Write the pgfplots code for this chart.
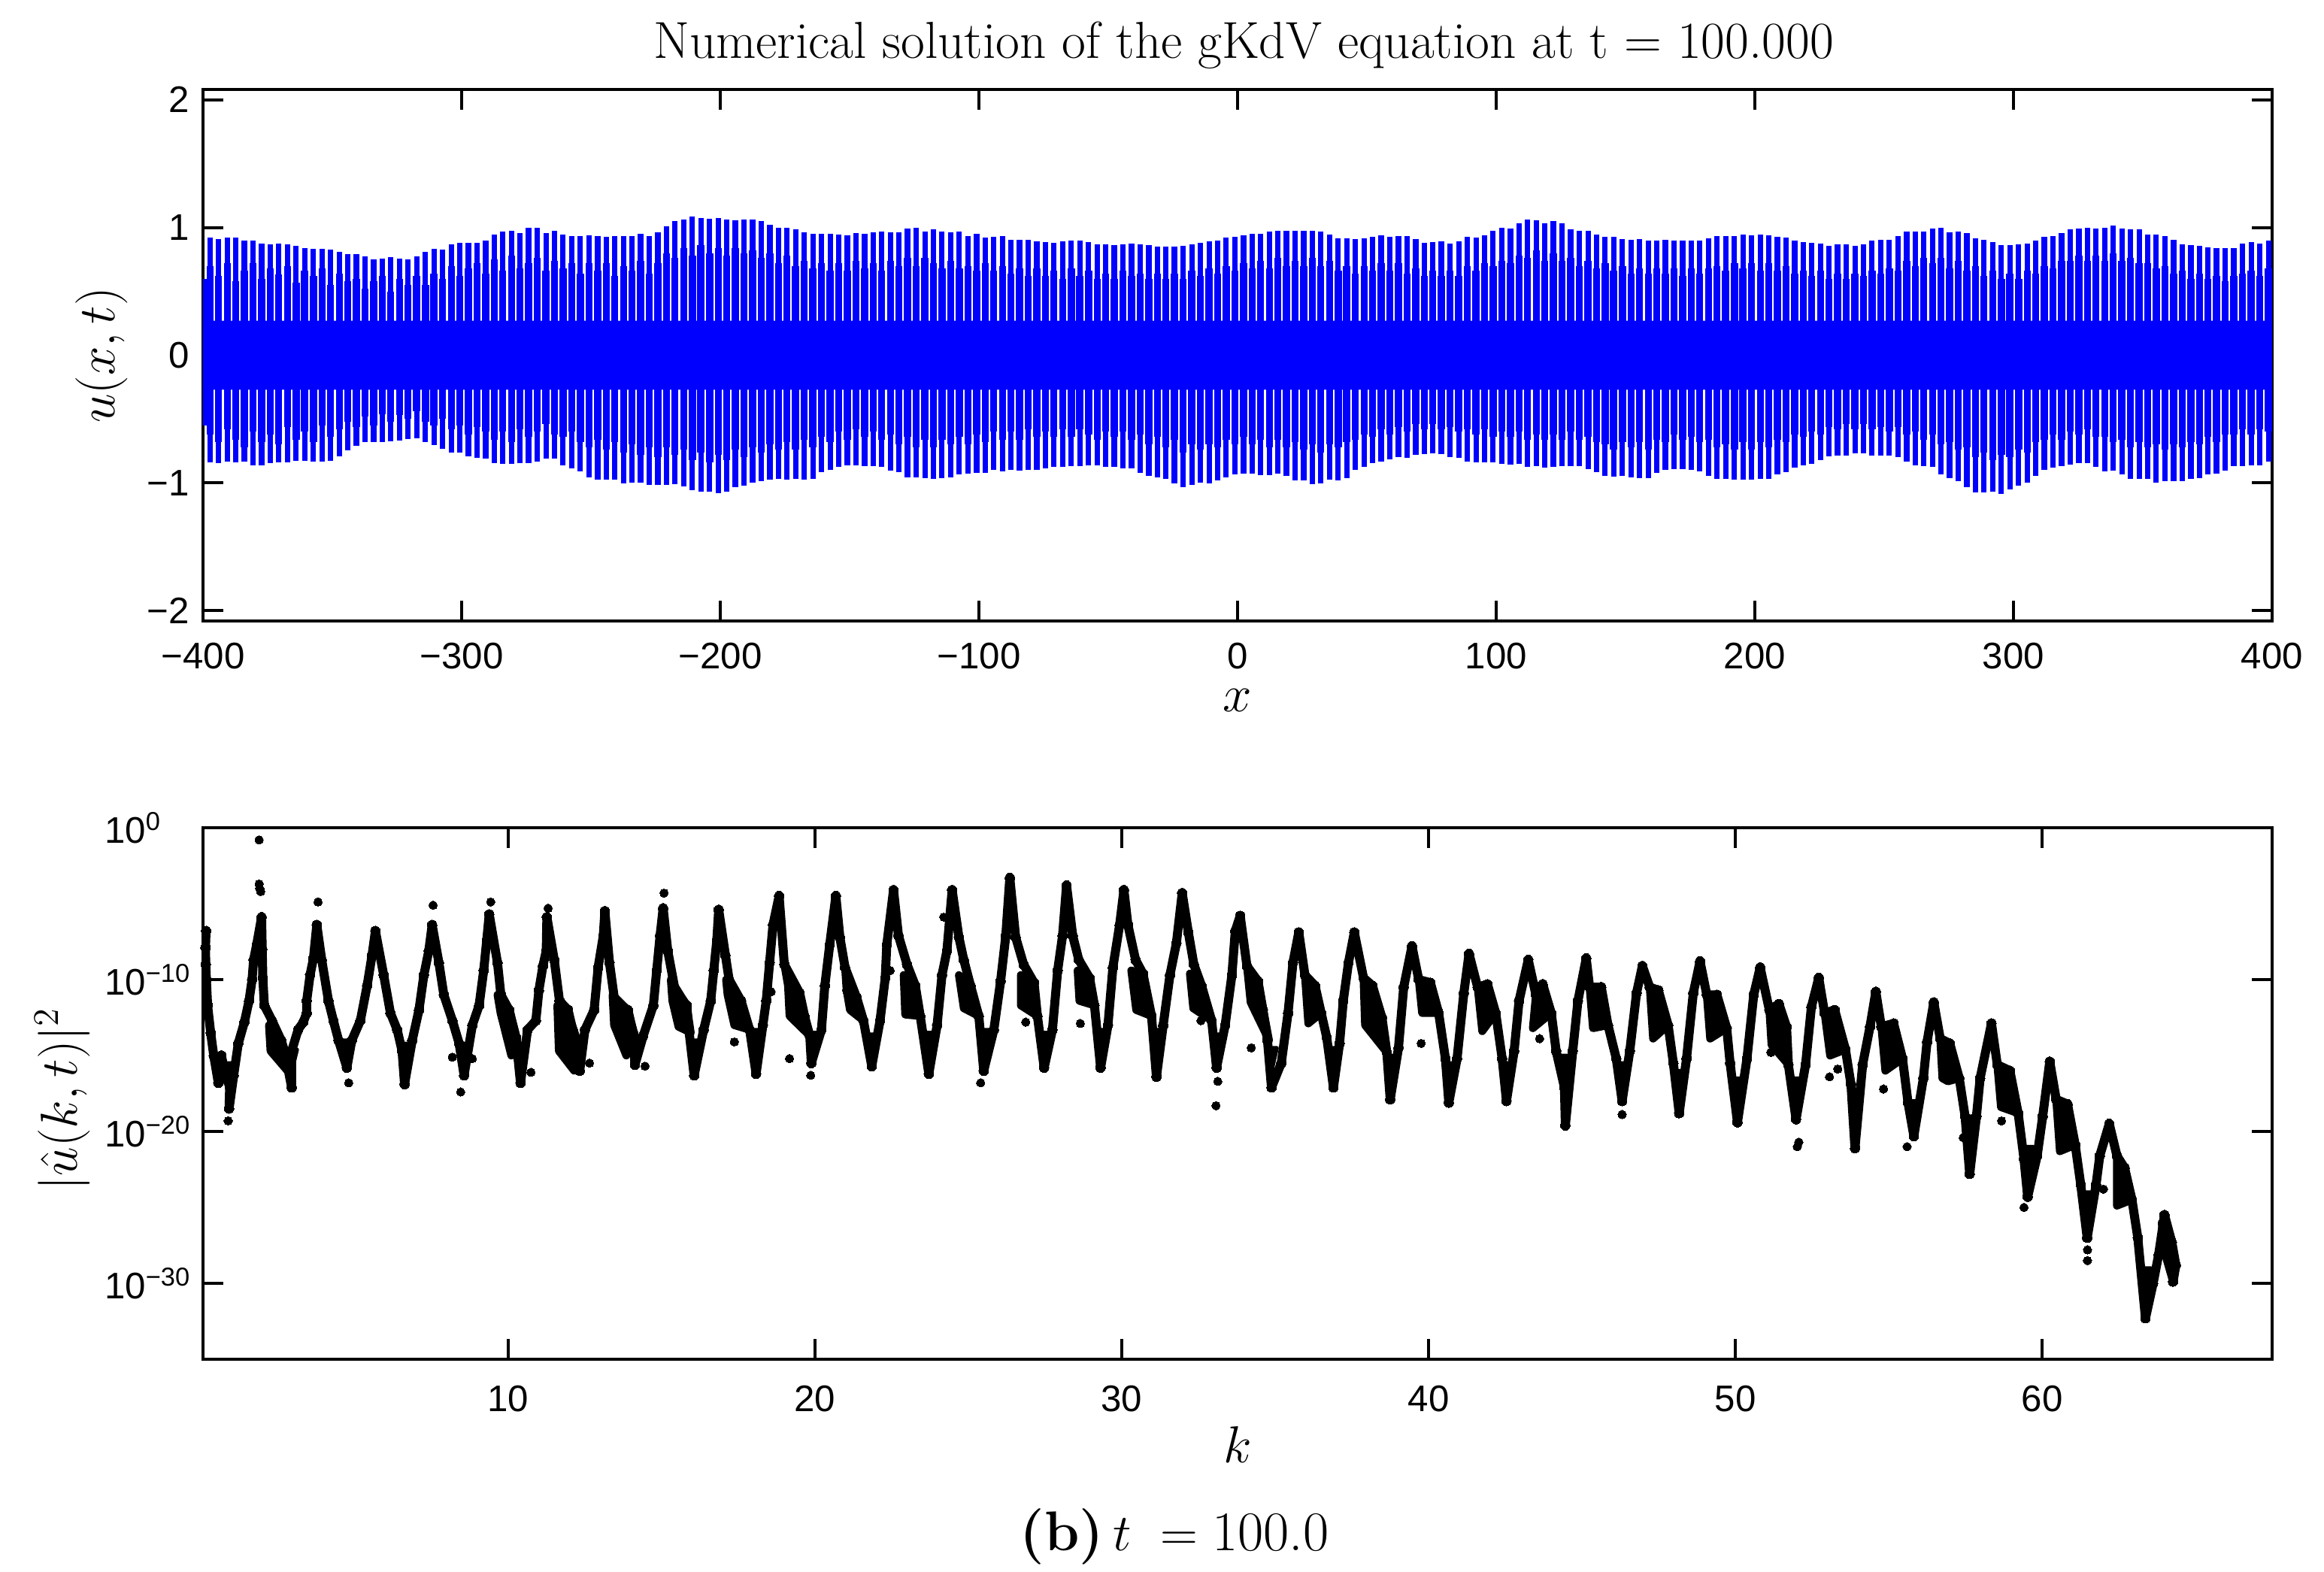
\documentclass[border=0pt]{standalone}
\usepackage{fontspec}
\usepackage{pgfplots}
\usepackage{pgfplotstable}
\pgfplotsset{compat=1.18}
\newfontfamily\hv{Liberation Sans}
\definecolor{pureblue}{RGB}{0,0,255}
\newcommand{\blob}[1]{\addplot[draw=black,fill=black,line width=2.6pt,line join=round] coordinates {#1} -- cycle;}
\newcommand{\tblob}[1]{\addplot[draw=black,fill=black,line width=1.2pt,line join=round] coordinates {#1} -- cycle;}
\pgfplotstableread{
x u l um lm
-399.7 .60 -.55 .55 -.50
-397.3 .92 -.84 .70 -.62
-394.0 .91 -.845 .62 -.68
-390.6 .92 -.835 .72 -.58
-387.3 .92 -.84 .58 -.66
-384.0 .90 -.835 .66 -.72
-380.7 .895 -.86 .72 -.60
-377.3 .875 -.86 .60 -.68
-374.0 .87 -.845 .68 -.62
-370.7 .875 -.84 .63 -.70
-367.3 .865 -.84 .70 -.56
-364.0 .855 -.825 .57 -.66
-360.7 .84 -.825 .66 -.60
-357.3 .835 -.83 .62 -.68
-354.0 .835 -.835 .68 -.55
-350.7 .825 -.825 .55 -.64
-347.3 .81 -.79 .64 -.58
-344.0 .79 -.745 .58 -.52
-340.7 .79 -.71 .60 -.56
-337.3 .775 -.68 .52 -.48
-334.0 .75 -.68 .58 -.55
-330.7 .755 -.68 .62 -.46
-327.4 .765 -.675 .50 -.52
-324.0 .755 -.665 .60 -.47
-320.7 .75 -.655 .55 -.50
-317.4 .775 -.65 .62 -.44
-314.0 .81 -.68 .55 -.52
-310.7 .83 -.705 .64 -.55
-307.4 .825 -.73 .60 -.50
-304.0 .87 -.76 .70 -.58
-300.7 .88 -.76 .62 -.55
-297.4 .88 -.79 .68 -.62
-294.1 .88 -.805 .72 -.56
-290.7 .90 -.81 .64 -.60
-287.4 .945 -.845 .75 -.66
-284.1 .97 -.85 .66 -.60
-280.7 .975 -.85 .78 -.68
-277.4 .955 -.845 .68 -.58
-274.1 .995 -.845 .72 -.64
-270.7 1.0 -.83 .76 -.60
-267.4 .955 -.81 .66 -.54
-264.1 .975 -.81 .74 -.62
-260.8 .945 -.86 .68 -.64
-257.4 .935 -.885 .72 -.60
-254.1 .935 -.91 .64 -.68
-250.8 .94 -.955 .72 -.72
-247.4 .93 -.975 .66 -.66
-244.1 .925 -.975 .72 -.74
-240.8 .935 -.975 .62 -.68
-237.4 .935 -1.005 .70 -.76
-234.1 .935 -1.0 .66 -.70
-230.8 .95 -1.0 .74 -.78
-227.5 .935 -1.015 .64 -.72
-224.1 .96 -1.015 .72 -.80
-220.8 1.01 -1.015 .80 -.72
-217.5 1.05 -1.01 .76 -.78
-214.1 1.06 -1.025 .84 -.74
-210.8 1.085 -1.055 .78 -.82
-207.5 1.075 -1.07 .86 -.76
-204.1 1.07 -1.07 .80 -.84
-200.8 1.075 -1.08 .84 -.78
-197.5 1.06 -1.065 .78 -.82
-194.2 1.055 -1.035 .84 -.74
-190.8 1.065 -1.02 .80 -.80
-187.5 1.065 -1.0 .82 -.72
-184.2 1.05 -.985 .76 -.76
-180.8 1.02 -.975 .80 -.70
-177.5 1.0 -.965 .72 -.74
-174.2 .995 -.975 .78 -.68
-170.9 .985 -.97 .70 -.74
-167.5 .96 -.975 .74 -.66
-164.2 .95 -.965 .68 -.72
-160.9 .95 -.915 .72 -.64
-157.5 .95 -.895 .66 -.68
-154.2 .945 -.875 .72 -.60
-150.9 .94 -.86 .66 -.66
-147.5 .955 -.86 .74 -.58
-144.2 .95 -.87 .68 -.64
-140.9 .96 -.87 .72 -.60
-137.6 .965 -.875 .66 -.66
-134.2 .96 -.905 .74 -.62
-130.9 .96 -.915 .70 -.70
-127.6 .99 -.955 .76 -.64
-124.2 .995 -.955 .70 -.72
-120.9 .965 -.96 .76 -.66
-117.6 .985 -.965 .72 -.72
-114.3 .965 -.96 .68 -.66
-110.9 .96 -.955 .74 -.70
-107.6 .965 -.935 .68 -.64
-104.3 .93 -.925 .70 -.70
-100.9 .95 -.92 .66 -.62
-97.6 .92 -.92 .72 -.68
-94.3 .925 -.895 .66 -.60
-90.9 .93 -.91 .70 -.66
-87.6 .905 -.90 .64 -.60
-84.3 .905 -.905 .68 -.66
-81.0 .905 -.90 .62 -.58
-77.6 .89 -.895 .68 -.64
-74.3 .885 -.885 .62 -.60
-71.0 .88 -.875 .66 -.64
-67.6 .89 -.875 .60 -.58
-64.3 .895 -.87 .68 -.64
-61.0 .895 -.865 .62 -.58
-57.6 .885 -.86 .66 -.62
-54.3 .87 -.86 .60 -.66
-51.0 .865 -.875 .64 -.60
-47.7 .86 -.875 .60 -.64
-44.3 .865 -.885 .66 -.60
-41.0 .875 -.885 .62 -.66
-37.7 .87 -.92 .64 -.62
-34.3 .86 -.945 .60 -.70
-31.0 .85 -.955 .64 -.64
-27.7 .85 -.965 .60 -.72
-24.4 .85 -1.005 .64 -.66
-21.0 .855 -1.03 .60 -.76
-17.7 .865 -1.015 .66 -.70
-14.4 .88 -.995 .62 -.74
-11.0 .89 -1.005 .68 -.70
-7.7 .895 -.98 .64 -.72
-4.4 .92 -.955 .70 -.66
-1.1 .925 -.935 .66 -.70
2.3 .94 -.925 .72 -.64
5.6 .95 -.925 .68 -.70
8.9 .95 -.94 .74 -.66
12.3 .97 -.94 .68 -.72
15.6 .975 -.925 .76 -.66
18.9 .975 -.945 .70 -.72
22.2 .975 -.98 .74 -.68
25.6 .975 -.98 .70 -.74
28.9 .975 -1.01 .76 -.70
32.2 .965 -1.005 .70 -.76
35.6 .945 -.975 .74 -.70
38.9 .915 -.98 .66 -.72
42.2 .915 -.96 .70 -.68
45.5 .91 -.895 .64 -.66
48.9 .915 -.875 .70 -.62
52.2 .925 -.845 .66 -.64
55.5 .94 -.835 .72 -.58
58.9 .925 -.815 .66 -.62
62.2 .935 -.80 .72 -.56
65.5 .935 -.805 .64 -.60
68.9 .91 -.78 .68 -.54
72.2 .88 -.775 .62 -.58
75.5 .885 -.77 .66 -.54
78.8 .89 -.775 .62 -.58
82.2 .875 -.80 .66 -.56
85.5 .89 -.805 .62 -.60
88.8 .925 -.83 .70 -.58
92.2 .92 -.84 .66 -.62
95.5 .94 -.84 .72 -.58
98.8 .975 -.84 .70 -.64
102.2 .995 -.85 .74 -.60
105.5 .99 -.855 .72 -.64
108.8 1.03 -.85 .78 -.60
112.1 1.06 -.875 .76 -.66
115.5 1.055 -.865 .82 -.62
118.8 1.035 -.88 .74 -.66
122.1 1.05 -.875 .80 -.62
125.5 1.035 -.87 .74 -.66
128.8 .985 -.87 .76 -.60
132.1 .975 -.87 .70 -.66
135.5 .975 -.89 .74 -.64
138.8 .945 -.915 .68 -.68
142.1 .925 -.945 .72 -.70
145.4 .925 -.95 .66 -.74
148.8 .91 -.945 .70 -.68
152.1 .905 -.955 .64 -.72
155.4 .91 -.96 .68 -.68
158.8 .90 -.96 .64 -.74
162.1 .90 -.92 .68 -.66
165.4 .905 -.895 .64 -.68
168.8 .895 -.89 .68 -.62
172.1 .895 -.89 .62 -.66
175.4 .895 -.895 .68 -.64
178.7 .895 -.91 .64 -.68
182.1 .915 -.945 .68 -.66
185.4 .935 -.97 .70 -.72
188.7 .935 -.97 .66 -.70
192.1 .935 -.975 .72 -.74
195.4 .945 -.975 .68 -.68
198.7 .94 -.975 .72 -.74
202.1 .945 -.965 .66 -.68
205.4 .94 -.965 .72 -.72
208.7 .925 -.93 .66 -.66
212.0 .92 -.915 .70 -.68
215.4 .90 -.88 .64 -.62
218.7 .885 -.86 .66 -.64
222.0 .88 -.85 .62 -.60
225.4 .875 -.82 .66 -.62
228.7 .855 -.79 .60 -.56
232.0 .865 -.785 .64 -.58
235.4 .865 -.785 .60 -.54
238.7 .855 -.77 .64 -.58
242.0 .87 -.77 .62 -.54
245.3 .895 -.785 .66 -.58
248.7 .905 -.785 .64 -.56
252.0 .905 -.785 .68 -.60
255.3 .935 -.80 .66 -.56
258.7 .965 -.835 .74 -.62
262.0 .97 -.86 .70 -.60
265.3 .97 -.87 .76 -.66
268.7 .99 -.875 .72 -.62
272.0 .995 -.935 .76 -.70
275.3 .96 -.96 .68 -.68
278.6 .97 -.985 .74 -.74
282.0 .955 -1.03 .66 -.72
285.3 .915 -1.075 .70 -.80
288.6 .905 -1.075 .62 -.76
292.0 .885 -1.07 .66 -.82
295.3 .86 -1.085 .60 -.78
298.6 .86 -1.05 .64 -.80
302.0 .87 -1.02 .60 -.74
305.3 .875 -1.0 .66 -.76
308.6 .895 -.945 .64 -.68
311.9 .925 -.90 .70 -.66
315.3 .93 -.88 .68 -.62
318.6 .955 -.87 .74 -.66
321.9 .985 -.855 .74 -.60
325.3 .99 -.845 .78 -.62
328.6 1.0 -.845 .74 -.58
331.9 .99 -.875 .78 -.64
335.3 1.0 -.91 .74 -.64
338.6 1.015 -.905 .80 -.68
341.9 .99 -.935 .74 -.66
345.2 .985 -.965 .76 -.72
348.6 .985 -.965 .72 -.68
351.9 .945 -.97 .72 -.72
355.2 .945 -1.0 .68 -.70
358.6 .935 -.985 .70 -.74
361.9 .905 -.985 .64 -.70
365.2 .865 -.985 .66 -.72
368.6 .86 -.97 .60 -.68
371.9 .855 -.96 .64 -.70
375.2 .845 -.93 .60 -.64
378.5 .84 -.925 .62 -.68
381.9 .84 -.905 .58 -.62
385.2 .84 -.87 .62 -.62
388.5 .875 -.865 .64 -.58
391.9 .885 -.86 .66 -.62
395.2 .875 -.86 .62 -.58
398.6 .895 -.83 .68 -.60
}\gkdvcomb
\begin{document}
\begin{tikzpicture}
\path[use as bounding box] (-67.5pt,-316pt) rectangle (705.25pt,206.5pt);
\pgfplotsset{
  common/.style={
    scale only axis, width=688pt, height=176.75pt,
    axis line style={line width=1pt}, tick style={line width=1pt,black},
    major tick length=6.8pt, tick align=inside, tick pos=both,
    tick label style={font=\hv\fontsize{12.3}{14}\selectfont},
    minor tick num=0,
  }
}
\begin{axis}[common, at={(0pt,0pt)}, anchor=south west,
  xmin=-400, xmax=400, ymin=-2.08, ymax=2.08,
  xtick={-400,-300,-200,-100,0,100,200,300,400},
  xticklabels={−400,−300,−200,−100,0,100,200,300,400},
  ytick={-2,-1,0,1,2}, yticklabels={−2,−1,0,1,2},
  xticklabel style={yshift=-3.7pt}, yticklabel style={xshift=-1pt},
  xlabel={$x$}, ylabel={$u(x,t)$},
  every axis x label/.style={at={(axis description cs:0.5,-0.149)},anchor=center,font=\fontsize{18}{22}\selectfont},
  every axis y label/.style={at={(axis description cs:-0.049,0.5)},anchor=center,rotate=90,font=\fontsize{18}{22}\selectfont},
]
\addplot[fill=pureblue,draw=none] coordinates {(-400,.27)(400,.27)(400,-.27)(-400,-.27)} \closedcycle;
\addplot[ycomb,pureblue,line width=2.35pt] table[x=x,y=um]{\gkdvcomb};
\addplot[ycomb,pureblue,line width=2.35pt] table[x=x,y=lm]{\gkdvcomb};
\addplot[ycomb,pureblue,line width=1.8pt] table[x=x,y=u]{\gkdvcomb};
\addplot[ycomb,pureblue,line width=1.8pt] table[x=x,y=l]{\gkdvcomb};
\end{axis}
\begin{axis}[common, at={(0pt,-245.5pt)}, anchor=south west,
  xmin=0.05, xmax=67.5, ymin=1e-35, ymax=1, ymode=log,
  xtick={10,20,30,40,50,60}, xticklabels={10,20,30,40,50,60},
  ytick={1e-30,1e-20,1e-10,1},
  yticklabels={10\textsuperscript{−30},10\textsuperscript{−20},10\textsuperscript{−10},10\textsuperscript{0}},
  xticklabel style={yshift=-5.3pt}, yticklabel style={xshift=-1.7pt,text width=27.5pt,align=left},
  xlabel={$k$}, ylabel={$|\hat{u}(k,t)|^2$},
  every axis x label/.style={at={(axis description cs:0.5,-0.161)},anchor=center,font=\fontsize{18}{22}\selectfont},
  every axis y label/.style={at={(axis description cs:-0.068,0.49)},anchor=center,rotate=90,font=\fontsize{18}{22}\selectfont},
]
\blob{(2.2,1e-13)(2.5,1e-14)(2.72,1.6e-15)(2.8,1e-16)(2.25,2e-15)}
\blob{(9.65,1e-11)(10.03,1e-12)(10.3,1e-14)(10.1,1e-15)(9.75,6.3e-13)}
\blob{(11.6,2e-12)(12.0,3.2e-13)(12.25,1e-14)(12.15,1e-16)(11.65,2e-15)}
\blob{(13.4,1e-11)(13.9,1e-12)(14.1,3.2e-14)(13.85,1e-15)(13.45,1e-13)}
\blob{(15.3,1e-10)(15.82,2e-12)(15.95,3.2e-14)(15.55,7.9e-14)(15.35,4e-12)}
\blob{(17.1,1e-10)(17.59,4e-12)(17.87,5e-14)(17.37,1e-13)(17.15,1e-11)}
\blob{(19.0,1e-9)(19.5,1.3e-11)(19.67,3.2e-13)(19.83,2e-14)(19.17,4e-13)(19.12,4e-11)}
\blob{(20.98,6.3e-10)(21.36,6.3e-12)(21.58,2e-13)(21.14,1e-12)(21.03,2e-11)}
\blob{(22.89,2e-10)(23.27,4e-11)(23.43,4e-13)(22.94,5e-13)}
\blob{(24.69,2e-10)(25.07,4e-11)(25.34,4e-13)(24.85,1.3e-12)}
\blob{(26.71,2e-10)(27.14,6.3e-11)(27.25,4e-13)(26.71,2e-12)}
\blob{(28.56,4e-10)(28.95,1.3e-10)(29.11,2e-12)(28.62,4e-12)}
\blob{(30.31,4e-10)(30.69,2.5e-10)(30.97,4e-13)(30.47,1e-12)}
\blob{(32.22,2.5e-10)(32.6,4e-11)(32.93,2e-13)(32.33,1.3e-12)}
\blob{(34.08,7.9e-10)(34.44,7.9e-11)(34.8,1e-14)(34.2,3.2e-12)}
\blob{(35.97,2e-10)(36.3,4e-11)(36.68,1.6e-14)(36.5,6.3e-13)(36.08,1.3e-13)}
\blob{(37.88,1.3e-10)(38.17,4e-11)(38.48,3.2e-13)(38.64,1.6e-15)(37.93,1e-13)}
\blob{(39.68,1e-10)(40.06,6.3e-11)(40.33,6.3e-13)(39.79,6.3e-13)}
\blob{(41.6,3.2e-11)(41.92,5e-11)(42.19,6.3e-13)(41.75,4e-14)}
\blob{(43.5,1e-11)(43.72,5e-11)(44,6.3e-13)(43.4,6.3e-14)}
\blob{(45.25,3.2e-11)(45.63,3.2e-11)(45.85,1e-13)(45.36,6.3e-14)}
\blob{(47.21,3.2e-11)(47.49,2e-11)(47.81,1e-13)(47.32,1.3e-14)}
\blob{(49.07,1e-11)(49.4,1e-11)(49.72,6.3e-14)(49.18,1.3e-14)}
\blob{(51.11,1e-12)(51.42,2.5e-12)(51.67,7.9e-14)(51.73,2.5e-16)(51.18,5e-15)}
\blob{(52.91,6.3e-13)(53.24,1e-12)(53.59,2.5e-15)(53.09,1e-15)}
\blob{(54.76,7.9e-14)(55.16,1.3e-13)(55.45,6.3e-16)(54.89,1e-16)}
\blob{(56.68,1.3e-14)(56.99,6.3e-15)(57.3,3.2e-17)(56.93,2e-17)(56.75,3.2e-17)}
\blob{(58.54,2.5e-16)(58.95,1e-16)(59.22,1.6e-19)(58.66,4e-19)}
\blob{(60.46,1.3e-18)(60.83,6.3e-19)(61.08,1.3e-21)(60.58,5e-22)}
\blob{(62.44,2.5e-22)(62.69,4e-23)(62.93,3.2e-25)(62.44,1.3e-25)}
\blob{(63.9,1e-26)(64.23,5e-28)(64.36,1.6e-29)(64.27,1.3e-30)(64.0,1e-28)}
\tblob{(0.7,3.2e-16)(1.1,3.2e-16)(0.9,1e-18)}
\tblob{(2.76,2.5e-15)(3.12,2.5e-15)(2.94,7.9e-17)}
\tblob{(4.56,1e-14)(4.92,1e-14)(4.74,1.6e-15)}
\tblob{(6.44,6.3e-15)(6.8,6.3e-15)(6.62,7.9e-17)}
\tblob{(8.38,6.3e-15)(8.74,6.3e-15)(8.56,3.2e-16)}
\tblob{(10.22,6.3e-15)(10.58,6.3e-15)(10.4,1.6e-16)}
\tblob{(12.15,1e-14)(12.51,1e-14)(12.33,1e-15)}
\tblob{(13.95,2e-14)(14.31,2e-14)(14.13,2.5e-15)}
\tblob{(15.88,1e-14)(16.24,1e-14)(16.06,5e-16)}
\tblob{(17.9,5e-14)(18.26,5e-14)(18.08,6.3e-16)}
\tblob{(19.7,3.2e-14)(20.06,3.2e-14)(19.88,3.2e-15)}
\tblob{(21.67,2.5e-14)(22.03,2.5e-14)(21.85,2e-15)}
\tblob{(23.53,3.2e-14)(23.89,3.2e-14)(23.71,6.3e-16)}
\tblob{(25.32,5e-14)(25.68,5e-14)(25.5,1e-15)}
\tblob{(27.29,3.2e-14)(27.65,3.2e-14)(27.47,1.6e-15)}
\tblob{(29.13,5e-14)(29.49,5e-14)(29.31,1.6e-15)}
\tblob{(30.95,5e-14)(31.31,5e-14)(31.13,4e-16)}
\tblob{(32.91,2.5e-14)(33.27,2.5e-14)(33.09,1.6e-15)}
\tblob{(34.7,3.2e-15)(35.06,3.2e-15)(34.88,7.9e-17)}
\tblob{(36.72,3.2e-15)(37.08,3.2e-15)(36.9,7.9e-17)}
\tblob{(38.57,1e-15)(38.93,1e-15)(38.75,1.3e-17)}
\tblob{(40.48,3.2e-16)(40.84,3.2e-16)(40.66,7.9e-18)}
\tblob{(42.36,3.2e-16)(42.72,3.2e-16)(42.54,1e-17)}
\tblob{(44.25,1e-15)(44.61,1e-15)(44.43,7.9e-17)}
\tblob{(46.13,3.2e-16)(46.49,3.2e-16)(46.31,1e-17)}
\tblob{(47.99,1e-16)(48.35,1e-16)(48.17,1.6e-18)}
\tblob{(49.89,3.2e-17)(50.25,3.2e-17)(50.07,4e-19)}
\tblob{(51.8,3.2e-17)(52.16,3.2e-17)(51.98,6.3e-19)}
\tblob{(53.72,3.2e-18)(54.08,3.2e-18)(53.9,7.9e-21)}
\tblob{(55.64,1e-18)(56.0,1e-18)(55.82,5e-20)}
\tblob{(57.46,1e-19)(57.82,1e-19)(57.64,1.6e-22)}
\tblob{(59.35,1e-21)(59.71,1e-21)(59.53,5e-24)}
\tblob{(61.29,1e-24)(61.65,1e-24)(61.47,1e-26)}
\tblob{(63.19,1e-29)(63.55,1e-29)(63.37,5e-32)}
\addplot[black,line width=3pt,line join=round,mark=*,mark size=1.6pt,mark options={solid,fill=black,line width=0pt}] coordinates {
(0.15,1.6e-7)(0.13,1.3e-8)(0.14,1e-9)(0.16,1e-10)(0.2,2e-12)(0.3,3.2e-14)(0.4,1e-15)(0.55,1.6e-17)(0.65,1e-15)(0.8,3.2e-17)(0.92,1e-17)(0.9,3.2e-19)(1.05,5e-17)(1.2,6.3e-15)(1.4,1.6e-13)(1.55,4e-12)(1.65,1e-10)(1.7,2e-9)(1.8,2e-8)(1.96,1.3e-6)
(1.98,1e-8)(2.0,1.3e-10)(2.05,2e-12)(2.3,2e-13)(2.6,1e-14)(2.72,1.6e-15)(2.94,7.9e-18)(2.94,2e-15)(3.15,5e-14)(3.32,1.6e-13)(3.43,6.3e-13)(3.43,4e-12)(3.54,2e-10)(3.65,2.5e-9)(3.76,4e-7)
(3.92,2e-9)(4.14,4e-12)(4.3,2e-13)(4.47,1e-14)(4.74,1.6e-16)(4.9,1e-14)(5.18,2e-13)(5.4,4e-11)(5.56,4e-9)(5.67,1.6e-7)
(5.94,2e-10)(6.16,6.3e-13)(6.38,5e-14)(6.54,2e-15)(6.62,1.3e-17)(6.87,1e-14)(7.09,1e-12)(7.25,2e-10)(7.41,7.9e-9)(7.52,4e-7)
(7.74,1.3e-9)(7.9,1e-11)(8.18,2e-13)(8.4,6.3e-15)(8.56,5e-17)(8.83,1e-13)(9.05,2e-12)(9.2,4e-10)(9.3,4e-8)(9.38,2e-6)
(9.65,1.3e-9)(9.76,1e-11)(10.03,1e-12)(10.25,1.6e-14)(10.4,1.6e-17)(10.63,5e-14)(10.9,2e-13)(11,2e-11)(11.13,7.9e-10)(11.24,7.9e-9)(11.26,1.3e-6)
(11.5,2e-9)(11.67,4e-12)(11.95,1e-12)(12.1,5e-14)(12.33,1e-16)(12.5,5e-14)(12.8,1e-12)(12.93,6.3e-10)(13.1,7.9e-8)(13.15,3.2e-6)
(13.3,1.3e-9)(13.47,4e-12)(13.9,1e-12)(14.07,3.2e-14)(14.13,2.5e-16)(14.4,2e-14)(14.73,2e-12)(14.84,4e-10)(14.95,7.9e-8)(15.05,5e-6)
(15.2,7.9e-9)(15.44,2e-11)(15.82,2e-12)(15.87,1e-13)(16.06,5e-17)(16.37,5e-14)(16.6,4e-12)(16.7,4e-10)(16.8,4e-8)(16.86,4e-6)
(17.08,4e-9)(17.2,1e-10)(17.59,4e-12)(17.87,5e-14)(18.08,6.3e-17)(18.3,1e-13)(18.41,4e-12)(18.52,1.3e-9)(18.63,4e-7)(18.83,3.2e-5)
(19.0,1e-9)(19.5,1.3e-11)(19.67,3.2e-13)(19.83,2e-14)(19.88,3.2e-16)(20.21,5e-14)(20.32,4e-11)(20.48,2e-8)(20.68,3.2e-5)
(20.81,6.3e-8)(20.98,6.3e-10)(21.36,6.3e-12)(21.58,2e-13)(21.85,2e-16)(22.12,2e-13)(22.29,1.3e-10)(22.34,2e-8)(22.56,7.9e-5)
(22.72,7.9e-8)(23.0,1e-9)(23.27,4e-11)(23.43,4e-13)(23.71,6.3e-17)(23.98,1e-13)(24.14,2e-10)(24.3,7.9e-9)(24.47,7.9e-5)
(24.69,6.3e-8)(24.85,2e-9)(25.07,4e-11)(25.34,4e-13)(25.5,1e-16)(25.83,5e-14)(26.05,7.9e-11)(26.22,7.9e-8)(26.35,5e-4)
(26.54,6.3e-8)(26.8,1e-9)(27.14,6.3e-11)(27.25,4e-13)(27.47,1.6e-16)(27.74,5e-14)(27.91,4e-10)(28.07,7.9e-8)(28.2,1.6e-4)
(28.4,7.9e-8)(28.6,2e-9)(28.95,1.3e-10)(29.11,2e-12)(29.31,1.6e-16)(29.55,1e-13)(29.71,6.3e-10)(29.93,4e-7)(30.07,7.9e-5)
(30.2,4e-7)(30.45,2e-9)(30.69,2.5e-10)(30.97,4e-13)(31.13,4e-17)(31.35,1e-13)(31.57,2e-10)(31.78,2.5e-8)(31.97,5e-5)
(32.17,1.3e-7)(32.35,1e-9)(32.6,4e-11)(32.93,2e-13)(33.09,1.6e-16)(33.37,1e-13)(33.59,2e-10)(33.7,1.6e-7)(33.86,1.6e-6)
(34.08,7.9e-10)(34.44,7.9e-11)(34.6,1e-12)(34.75,1e-14)(34.88,7.9e-18)(35.2,3.2e-16)(35.42,6.3e-13)(35.58,1.3e-9)(35.77,1.3e-7)
(35.97,2e-10)(36.3,4e-11)(36.5,6.3e-13)(36.68,1.6e-14)(36.9,7.9e-18)(37.1,6.3e-15)(37.22,4e-12)(37.39,1.3e-9)(37.58,1.3e-7)
(37.88,1.3e-10)(38.17,4e-11)(38.48,3.2e-13)(38.64,1.6e-15)(38.75,1.3e-18)(39.02,3.2e-15)(39.19,3.2e-11)(39.46,1.6e-8)
(39.68,1e-10)(40.06,6.3e-11)(40.33,6.3e-13)(40.55,6.3e-16)(40.66,7.9e-19)(40.93,6.3e-16)(41.15,1.3e-11)(41.32,5e-9)
(41.6,3.2e-11)(41.92,5e-11)(42.19,6.3e-13)(42.4,6.3e-16)(42.54,1e-18)(42.79,2e-15)(42.95,4e-12)(43.25,2e-9)
(43.5,1e-11)(43.72,5e-11)(44,6.3e-13)(44.16,2e-15)(44.43,7.9e-18)(44.46,2.5e-20)(44.7,2e-15)(44.87,4e-12)(45.14,2.5e-9)
(45.25,3.2e-11)(45.63,3.2e-11)(45.85,1e-13)(46.12,6.3e-16)(46.31,1e-18)(46.56,2e-15)(46.78,1.3e-11)(46.97,7.9e-10)
(47.21,3.2e-11)(47.49,2e-11)(47.81,1e-13)(47.98,3.2e-16)(48.17,1.6e-19)(48.41,6.3e-16)(48.63,1.3e-11)(48.85,1.6e-9)
(49.07,1e-11)(49.4,1e-11)(49.72,6.3e-14)(49.83,3.2e-16)(50.07,4e-20)(50.38,6.3e-16)(50.6,1e-11)(50.81,6.3e-10)
(51.11,1e-12)(51.42,2.5e-12)(51.67,7.9e-14)(51.73,2.5e-16)(51.98,6.3e-20)(52.29,2.5e-16)(52.48,1.6e-12)(52.72,1.3e-10)
(52.91,6.3e-13)(53.24,1e-12)(53.59,2.5e-15)(53.77,1.3e-17)(53.9,7.9e-22)(54.15,2.5e-16)(54.39,7.9e-14)(54.58,1.6e-11)
(54.76,7.9e-14)(55.16,1.3e-13)(55.45,6.3e-16)(55.63,7.9e-19)(55.82,5e-21)(56.13,3.2e-17)(56.25,7.9e-15)(56.47,3.2e-12)
(56.68,1.3e-14)(56.99,6.3e-15)(57.3,3.2e-17)(57.49,1e-19)(57.64,1.6e-23)(57.86,1e-19)(57.98,3.2e-17)(58.35,1.3e-13)
(58.54,2.5e-16)(58.95,1e-16)(59.22,1.6e-19)(59.41,1.6e-22)(59.53,5e-25)(59.84,2.5e-22)(60.02,1e-19)(60.25,4e-16)
(60.46,1.3e-18)(60.83,6.3e-19)(61.08,1.3e-21)(61.26,3.2e-24)(61.47,1e-27)(61.76,3.2e-24)(61.88,2.5e-22)(62.19,3.2e-20)
(62.44,2.5e-22)(62.69,4e-23)(62.93,3.2e-25)(63.12,1e-27)(63.37,5e-33)(63.62,1e-30)(63.8,7.9e-29)(63.99,3.2e-26)(64.23,5e-28)(64.36,1.6e-29)(64.27,1.3e-30)
};
\addplot[only marks,black,mark=*,mark size=1.4pt,mark options={solid,fill=black,line width=0pt}] coordinates {
(1.88,1.6e-1)(1.9,1e-4)(1.93,6.3e-5)(1.88,2e-4)(0.87,5e-20)(3.8,1.3e-5)(4.8,1.6e-17)(7.55,7.9e-6)(8.45,4e-18)(8.18,7.9e-16)(8.83,6.3e-16)(9.43,1.3e-5)(10.74,7.9e-17)(11.3,5e-6)(11.95,1e-15)(12.65,3.2e-16)(14.46,2e-16)(15.08,5e-5)(17.37,7.9e-15)(19.17,6.3e-16)(19.86,5e-17)(25.4,1.6e-17)(26.87,1.6e-13)(28.65,1.3e-13)(32.58,2e-13)(33.13,2e-17)(33.07,5e-19)(34.22,3.2e-15)(39.76,6.3e-15)(43.62,1.3e-14)(46.31,1.3e-19)(51.16,1.6e-15)(52.07,2e-21)(52.02,1e-21)(53.07,4e-17)(53.34,1.3e-16)(54.83,6.3e-18)(55.6,1e-21)(57.43,4e-21)(58.68,5e-20)(59.41,1e-25)(61.48,1.6e-28)(61.48,3.2e-29)(62,1.6e-24)(18.57,1.6e-11)(24.2,1.3e-6)(22.45,4e-10)(21.03,2e-11)
};
\end{axis}
\node[font=\fontsize{17.3}{20}\selectfont] at (346pt,191.5pt) {Numerical solution of the gKdV equation at t = 100.000};
\node[font=\fontsize{18.6}{22}\selectfont] at (323pt,-304.5pt) {\textbf{(b)}\,$t\;=\;$100.0};
\end{tikzpicture}
\end{document}
